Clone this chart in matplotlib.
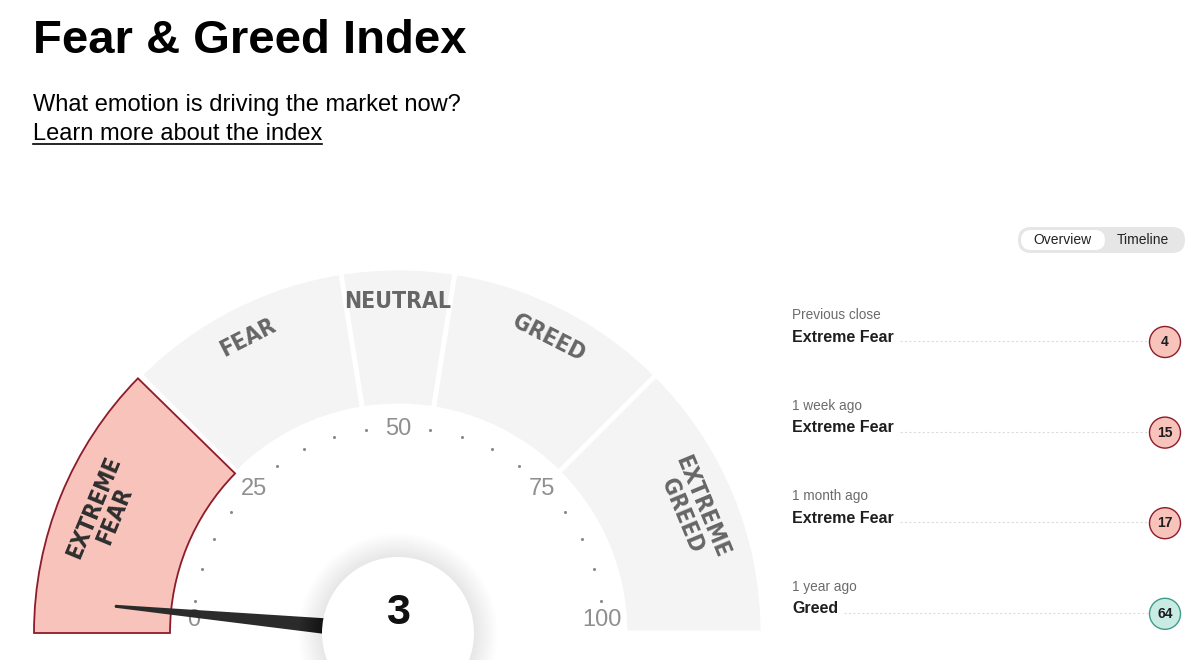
import matplotlib
matplotlib.use("Agg")
import matplotlib.pyplot as plt
import numpy as np
from matplotlib.patches import Wedge, Circle, Polygon, FancyBboxPatch

# gauge data
zone_names = ["EXTREME\nFEAR", "FEAR", "NEUTRAL", "GREED", "EXTREME\nGREED"]
zone_bounds = [0, 25, 45, 55, 75, 100]
tick_values = [0, 25, 50, 75, 100]
dot_values = [v for v in range(5, 100, 5) if v % 25]
current = 3

# history panel
hist_when = ["Previous close", "1 week ago", "1 month ago", "1 year ago"]
hist_rating = ["Extreme Fear", "Extreme Fear", "Extreme Fear", "Greed"]
hist_value = [4, 15, 17, 64]

plt.rcParams['font.family'] = ['Liberation Sans', 'DejaVu Sans']
COND = ['DejaVu Sans']

PINK, PINK_EDGE = '#f8c3bb', '#8e1b2a'
TEAL, TEAL_EDGE = '#c8ece4', '#3f9c8a'
ZONE_GRAY = '#f4f4f4'

W, H = 1200, 660
fig = plt.figure(figsize=(12, 6.6), dpi=100)
ax = fig.add_axes([0, 0, 1, 1])
ax.set_xlim(0, W)
ax.set_ylim(0, H)
ax.axis('off')


def Y(y):
    # image rows -> data y (y up)
    return H - y


cx, cy = 398, Y(633)
R_OUT, R_IN = 365, 227


def ang(v):
    return 180 - 1.8 * v


def polar(r, a):
    t = np.radians(a)
    return cx + r * np.cos(t), cy + r * np.sin(t)


# zones
for i, name in enumerate(zone_names):
    lo, hi = zone_bounds[i], zone_bounds[i + 1]
    t1, t2 = ang(hi), ang(lo)
    active = lo <= current < hi
    if active:
        ax.add_patch(Wedge((cx, cy), R_OUT - 1, t1 + 0.6, t2, width=R_OUT - R_IN - 2,
                           facecolor=PINK, edgecolor=PINK_EDGE, lw=1.3, zorder=2))
    else:
        ax.add_patch(Wedge((cx, cy), R_OUT, t1, t2, width=R_OUT - R_IN,
                           facecolor=ZONE_GRAY, edgecolor='white', lw=3.5, zorder=1))
    mid = (t1 + t2) / 2
    r_lab = 318 if '\n' in name else 331
    x, y = polar(r_lab, mid)
    ax.text(x, y, name, rotation=mid - 90, rotation_mode='anchor',
            ha='center', va='center', family=COND, weight='bold',
            fontstretch='condensed', fontsize=16.5,
            color='#2e2e2e' if active else '#666666', linespacing=0.95, zorder=3)

# tick dots and labels
for v in dot_values:
    x, y = polar(206, ang(v))
    ax.scatter(x, y, s=5, color='#8a8a8a', lw=0, zorder=3)
for v in tick_values:
    x, y = polar(204, ang(v))
    y = max(y, cy + 13)
    ax.text(x, y, str(v), ha='center', va='center', fontsize=17,
            color='#8f8f8f', zorder=3)

# needle
a = np.radians(ang(current))
u = np.array([np.cos(a), np.sin(a)])
p = np.array([-np.sin(a), np.cos(a)])
c = np.array([cx, cy])
tip = c + 283 * u
ax.add_patch(Polygon([tip + 1.5 * p, tip - 1.5 * p, c - 10 * p, c + 10 * p],
                     closed=True, facecolor='#2b2b2b', edgecolor='none', zorder=4))
ax.add_patch(Circle(tip, 1.6, facecolor='#2b2b2b', edgecolor='none', zorder=4))

# center disc with soft shadow
for k in range(24, 0, -1):
    ax.add_patch(Circle((cx, cy), 76 + k, facecolor='#000000', edgecolor='none',
                        alpha=0.004, zorder=5))
ax.add_patch(Circle((cx, cy), 76, facecolor='white', edgecolor='none', zorder=6))
ax.text(cx, Y(613), str(current), ha='center', va='center', fontsize=31,
        weight='bold', color='#111111', zorder=7)

# header
ax.text(33, Y(53), "Fear & Greed Index", fontsize=34, weight='bold',
        ha='left', va='baseline', color='black')
ax.text(33, Y(111), "What emotion is driving the market now?", fontsize=17,
        ha='left', va='baseline', color='black')
link = ax.text(33, Y(140), "Learn more about the index", fontsize=17,
               ha='left', va='baseline', color='black')

fig.canvas.draw()
rend = fig.canvas.get_renderer()
bb = link.get_window_extent(rend)
ax.plot([33, bb.x1], [Y(143.5), Y(143.5)], color='black', lw=1.2)

# toggle
ax.add_patch(FancyBboxPatch((1018, Y(253)), 167, 26,
                            boxstyle='round,pad=0,rounding_size=13',
                            facecolor='#e6e6e6', edgecolor='none'))
ax.add_patch(FancyBboxPatch((1021, Y(250)), 84, 20,
                            boxstyle='round,pad=0,rounding_size=10',
                            facecolor='white', edgecolor='none'))
ax.text(1062, Y(240), "Overview", fontsize=10, ha='center', va='center', color='#222222')
ax.text(1143, Y(240), "Timeline", fontsize=10, ha='center', va='center', color='#222222')

# history rows
for i, (when, rating, val) in enumerate(zip(hist_when, hist_rating, hist_value)):
    y0 = 315 + i * 90.6
    ax.text(792, Y(y0), when, fontsize=9.8, ha='left', va='center', color='#6b6b6b')
    t = ax.text(792, Y(y0 + 22), rating, fontsize=11.5, weight='bold',
                ha='left', va='center', color='#1e1e1e')
    tb = t.get_window_extent(rend)
    ax.plot([tb.x1 + 6, 1148], [Y(y0 + 26), Y(y0 + 26)], color='#dcdcdc',
            lw=0.8, ls=(0, (2, 2)))
    fill, edge = (PINK, PINK_EDGE) if val < 25 else (TEAL, TEAL_EDGE)
    ax.add_patch(Circle((1165, Y(y0 + 27)), 15.5, facecolor=fill, edgecolor=edge, lw=1.0))
    ax.text(1165, Y(y0 + 27), str(val), fontsize=10, weight='bold',
            ha='center', va='center', color='#1e1e1e')

fig.savefig('out.png', dpi=100)
